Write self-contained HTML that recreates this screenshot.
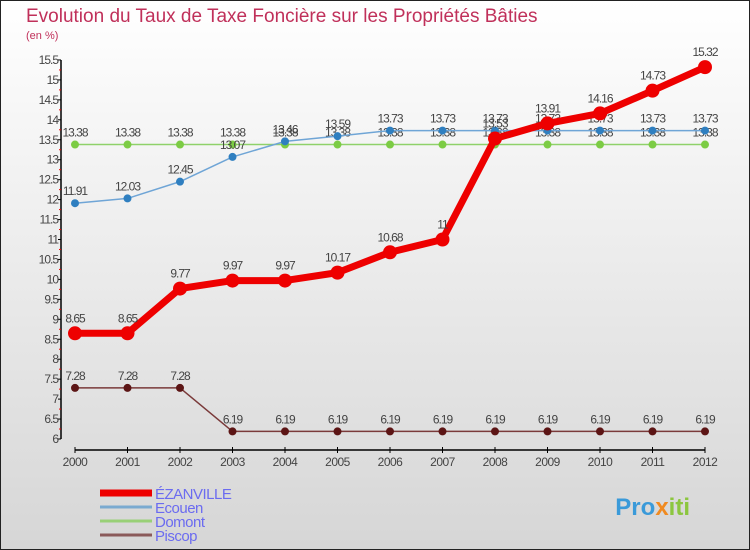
<!DOCTYPE html>
<html><head><meta charset="utf-8"><style>
body{margin:0}
#c{width:750px;height:550px;position:relative;font-family:"Liberation Sans",sans-serif;overflow:hidden}
</style></head><body>
<div id="c">
<svg id="s" width="750" height="550" xmlns="http://www.w3.org/2000/svg">
<defs><linearGradient id="bg" x1="0" y1="0" x2="0" y2="1"><stop offset="0" stop-color="#ffffff"/><stop offset="1" stop-color="#d6d6d6"/></linearGradient></defs>
<rect x="0.5" y="0.5" width="749" height="549" fill="url(#bg)" stroke="#222"/>
<text x="26" y="22" font-size="19" fill="#c0305a">Evolution du Taux de Taxe Foncière sur les Propriétés Bâties</text>
<text x="26" y="39" font-size="11" fill="#c0305a">(en %)</text>
<g id="g"></g>
<text x="690" y="515" font-size="24" font-weight="bold" text-anchor="end" fill="#3a9ad9">Pro<tspan fill="#f08a20">x</tspan><tspan fill="#8cc63f">iti</tspan></text>
</svg>
</div>
<script>
const years=[2000,2001,2002,2003,2004,2005,2006,2007,2008,2009,2010,2011,2012];
const ezanville=[8.65,8.65,9.77,9.97,9.97,10.17,10.68,11,13.53,13.91,14.16,14.73,15.32];
const ecouen=[11.91,12.03,12.45,13.07,13.46,13.59,13.73,13.73,13.73,13.73,13.73,13.73,13.73];
const domont=[13.38,13.38,13.38,13.38,13.38,13.38,13.38,13.38,13.38,13.38,13.38,13.38,13.38];
const piscop=[7.28,7.28,7.28,6.19,6.19,6.19,6.19,6.19,6.19,6.19,6.19,6.19,6.19];
const yTicks=[6,6.5,7,7.5,8,8.5,9,9.5,10,10.5,11,11.5,12,12.5,13,13.5,14,14.5,15,15.5];
const NS="http://www.w3.org/2000/svg";
const g=document.getElementById('g');
const X=i=>75+i*52.5;
const Y=v=>439-(v-6)*39.9;
function el(t,a){const e=document.createElementNS(NS,t);for(const k in a)e.setAttribute(k,a[k]);g.appendChild(e);return e;}
let ax=el('line',{x1:61,y1:Y(15.5),x2:61,y2:Y(6),stroke:'#000','stroke-width':1.5});


yTicks.forEach(v=>{
 let t=el('line',{x1:58,x2:61,y1:Y(v),y2:Y(v),stroke:'#000'});
 
 
 let m=el('line',{x1:59,x2:61,y1:Y(v+0.25),y2:Y(v+0.25),stroke:'#e00'});
 if(v===15.5)m.remove();
 let l=el('text',{x:58,y:Y(v)+4,'font-size':12,'text-anchor':'end',fill:'#444','letter-spacing':'-1'});
 l.textContent=String(v);
 
 
});
let xa=el('line',{x1:75,x2:705,y1:450,y2:450,stroke:'#000','stroke-width':1.5});


years.forEach((y,i)=>{
 el('line',{x1:X(i),x2:X(i),y1:447,y2:453,stroke:'#000'});
 let l=el('text',{x:X(i),y:466,'font-size':12,'text-anchor':'middle',fill:'#444','letter-spacing':'-0.5'});
 l.textContent=y;
 
 
});
function series(name,data,color,w,r,dot){
 const p=el('polyline',{points:data.map((v,i)=>X(i)+','+Y(v)).join(' '),fill:'none',stroke:color,'stroke-width':w,'stroke-linejoin':'round'});
 
 
 data.forEach((v,i)=>{
  const c=el('circle',{cx:X(i),cy:Y(v),r:r,fill:dot});
  
  
  const t=el('text',{x:X(i),y:Y(v)-8-(r>4?3:0),'font-size':12,'text-anchor':'middle',fill:'#444','letter-spacing':'-1'});
  t.textContent=String(v);
  
  
 });
}
series('domont',domont,'#8fd16a',1.5,4,'#7ccc44');
series('ecouen',ecouen,'#6fa5d6',1.5,4,'#2f7fc0');
series('piscop',piscop,'#7a3a3a',1.5,4,'#5c1515');
series('ezanville',ezanville,'#ee0000',7,7,'#ee0000');
const leg=[['ÉZANVILLE','#ee0000',7],['Ecouen','#7aaad0',3],['Domont','#99d077',3],['Piscop','#8a5a5a',3]];
leg.forEach((d,i)=>{
 const y=493+i*14;
 const l=el('line',{x1:100,x2:152,y1:y,y2:y,stroke:d[1],'stroke-width':d[2]});
 
 
 const t=el('text',{x:155,y:y+6,'font-size':15,fill:'#6b6bf0','letter-spacing':'-0.5'});
 t.textContent=d[0];
 
 
});
</script>
</body></html>
